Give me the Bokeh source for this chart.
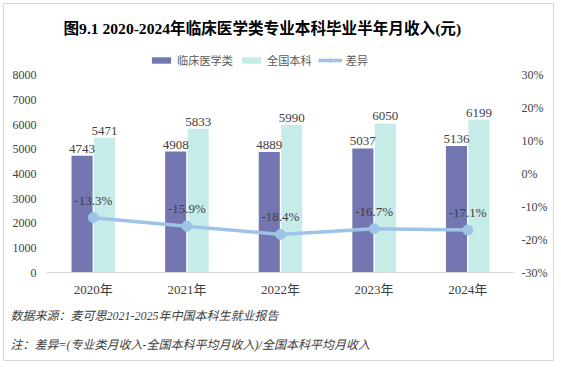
from bokeh.plotting import figure
from bokeh.models import (ColumnDataSource, FactorRange, Range1d, LinearAxis, FixedTicker,
                          PrintfTickFormatter, LabelSet, Title, Legend, LegendItem)
from bokeh.transform import dodge
from bokeh.core.properties import value
from bokeh.embed import file_html
from bokeh.resources import INLINE

years = ["2020年", "2021年", "2022年", "2023年", "2024年"]
med_income = [4743, 4908, 4889, 5037, 5136]
nat_income = [5471, 5833, 5990, 6050, 6199]
diff_pct = [-13.3, -15.9, -18.4, -16.7, -17.1]
income_ticks = [0, 1000, 2000, 3000, 4000, 5000, 6000, 7000, 8000]
pct_ticks = [-30, -20, -10, 0, 10, 20, 30]

title_text = "图9.1  2020-2024年临床医学类专业本科毕业半年月收入(元)"
note1 = "数据来源：麦可思2021-2025年中国本科生就业报告"
note2 = "注：差异=(专业类月收入-全国本科平均月收入)/全国本科平均月收入"

SERIF = "Liberation Serif, Noto Sans CJK SC"
C_MED = "#7376b0"
C_NAT = "#c6ecea"
C_LINE = "#9dc3e6"
TXT = "#404040"

# frame extends a little above the top tick so the legend can sit inside it
FRAME_H = 224
AXIS_H = 198
y_top = 8000 * FRAME_H / AXIS_H
pct_top = -30 + 60 * FRAME_H / AXIS_H

src = ColumnDataSource(dict(
    year=years, med=med_income, nat=nat_income, diff=diff_pct,
    med_lbl=[str(v) for v in med_income],
    nat_lbl=[str(v) for v in nat_income],
    diff_lbl=["%.1f%%" % v for v in diff_pct],
))

p = figure(x_range=FactorRange(*years), y_range=Range1d(0, y_top),
           width=551, height=358, output_backend="svg", toolbar_location=None,
           min_border_left=42, min_border_right=41, min_border_top=44, min_border_bottom=90,
           styles={"border": "1px solid #d9d9d9", "margin": "3px 0 0 3px"})
p.extra_y_ranges = {"pct": Range1d(-30, pct_top)}
p.x_range.range_padding = 0
p.outline_line_color = None
p.xgrid.visible = False
p.ygrid.visible = False

r_med = p.vbar(x=dodge("year", -0.12, range=p.x_range), top="med", width=0.225,
               source=src, fill_color=C_MED, line_color=None)
r_nat = p.vbar(x=dodge("year", 0.12, range=p.x_range), top="nat", width=0.225,
               source=src, fill_color=C_NAT, line_color=None)
r_line = p.line(x="year", y="diff", source=src, y_range_name="pct",
                line_color=C_LINE, line_width=3.5)
r_pts = p.scatter(x="year", y="diff", source=src, y_range_name="pct",
                  size=10, fill_color=C_LINE, line_color=C_LINE)

# axes
p.yaxis.ticker = FixedTicker(ticks=income_ticks)
ax = p.yaxis[0]
ax.axis_line_color = None
ax.major_tick_line_color = None
ax.minor_tick_line_color = None
ax.major_tick_out = 0
ax.minor_tick_out = 0
ax.major_label_text_font = SERIF
ax.major_label_text_font_size = "12px"
ax.major_label_text_color = TXT
ax.major_label_standoff = 10

ax_r = LinearAxis(y_range_name="pct", ticker=FixedTicker(ticks=pct_ticks),
                  formatter=PrintfTickFormatter(format="%d%%"))
ax_r.axis_line_color = None
ax_r.major_tick_line_color = None
ax_r.minor_tick_line_color = None
ax_r.major_tick_out = 0
ax_r.minor_tick_out = 0
ax_r.major_label_text_font = SERIF
ax_r.major_label_text_font_size = "12px"
ax_r.major_label_text_color = TXT
ax_r.major_label_standoff = 7
p.add_layout(ax_r, "right")

xa = p.xaxis[0]
xa.axis_line_color = "#d9d9d9"
xa.axis_line_width = 1
xa.major_tick_line_color = None
xa.minor_tick_line_color = None
xa.major_tick_out = 0
xa.minor_tick_out = 0
xa.major_label_text_font = SERIF
xa.major_label_text_font_size = "13px"
xa.major_label_text_color = TXT
xa.major_label_standoff = 9

# data labels
p.add_layout(LabelSet(x=dodge("year", -0.12, range=p.x_range), y="med", text="med_lbl", source=src,
                      text_align="center", text_baseline="bottom", y_offset=3,
                      text_font=value(SERIF), text_font_size="13px", text_color=TXT))
p.add_layout(LabelSet(x=dodge("year", 0.12, range=p.x_range), y="nat", text="nat_lbl", source=src,
                      text_align="center", text_baseline="bottom", y_offset=3,
                      text_font=value(SERIF), text_font_size="13px", text_color=TXT))
p.add_layout(LabelSet(x="year", y="diff", text="diff_lbl", source=src, y_range_name="pct",
                      text_align="center", text_baseline="bottom", y_offset=10,
                      text_font=value(SERIF), text_font_size="13px", text_color=TXT))

# legend inside the top strip of the frame
legend = Legend(items=[LegendItem(label="临床医学类", renderers=[r_med]),
                       LegendItem(label="全国本科", renderers=[r_nat]),
                       LegendItem(label="差异", renderers=[r_line, r_pts])],
                location=(103, 204), orientation="horizontal",
                glyph_width=24, glyph_height=8, label_standoff=4, spacing=6,
                padding=0, margin=0, border_line_color=None, background_fill_alpha=0,
                label_text_font="Noto Sans CJK SC", label_text_font_size="11.2px",
                label_text_color="#595959", label_height=14)
p.add_layout(legend, "center")

# title
p.add_layout(Title(text=title_text, align="left", offset=17, standoff=26,
                   text_font=SERIF, text_font_size="15.6px", text_font_style="bold",
                   text_color="#000000"), "above")

# notes below the x axis
p.add_layout(Title(text=note1, align="left", offset=-36, standoff=14,
                   text_font=SERIF, text_font_size="12px", text_font_style="italic",
                   text_color=TXT), "below")
p.add_layout(Title(text=note2, align="left", offset=-36, standoff=13,
                   text_font=SERIF, text_font_size="12px", text_font_style="italic",
                   text_color=TXT), "below")

open("out.html", "w").write(file_html(p, INLINE))
